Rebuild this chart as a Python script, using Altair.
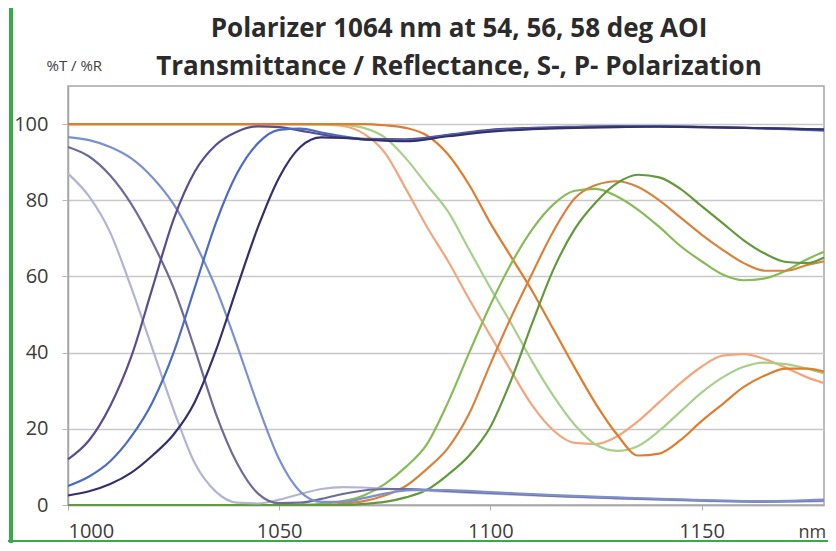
import altair as alt
import pandas as pd

TITLE_1 = "Polarizer 1064 nm at 54, 56, 58 deg AOI"
TITLE_2 = "Transmittance / Reflectance, S-, P- Polarization"

# ---- Blue/purple group (~1000-1060 nm edge) ----
riseA_x = [1000, 1005, 1010, 1015, 1020, 1025, 1030, 1035, 1040, 1045, 1050, 1055, 1060, 1065, 1070, 1080, 1090, 1100, 1110, 1120, 1130, 1140, 1150, 1160, 1170, 1179]
riseA_y = [12, 17, 26, 39, 57, 75, 87.5, 94.5, 98, 99.4, 99.2, 98.3, 97.3, 96.5, 96.1, 96, 97.2, 98.5, 99, 99.3, 99.5, 99.4, 99.2, 99, 98.8, 98.5]

riseB_x = [1000, 1005, 1010, 1015, 1020, 1025, 1030, 1035, 1040, 1045, 1050, 1055, 1060, 1065, 1070, 1080, 1090, 1100, 1110, 1120, 1130, 1140, 1150, 1160, 1170, 1179]
riseB_y = [5, 7.5, 11.5, 18, 27, 40, 57, 74, 87, 95, 98.5, 98.8, 97.8, 96.8, 96, 95.7, 97, 98.2, 98.8, 99.2, 99.4, 99.5, 99.3, 99, 98.7, 98.3]

riseC_x = [1000, 1005, 1010, 1015, 1020, 1025, 1030, 1035, 1040, 1045, 1050, 1055, 1060, 1065, 1070, 1080, 1090, 1100, 1110, 1120, 1130, 1140, 1150, 1160, 1170, 1179]
riseC_y = [2.5, 3.6, 5.5, 8.5, 13, 18.5, 27, 40.5, 57, 73, 86, 94, 96.5, 96.4, 96, 95.5, 96.8, 98, 98.7, 99, 99.2, 99.3, 99.2, 99, 98.8, 98.6]

fallA_x = [1000, 1005, 1010, 1015, 1020, 1025, 1030, 1035, 1040, 1045, 1050, 1055, 1060, 1065, 1070, 1078, 1090, 1100, 1115, 1130, 1150, 1165, 1179]
fallA_y = [87, 81, 71.5, 57, 41, 25, 11, 3.5, 0.6, 0.4, 1.4, 2.9, 4.2, 4.7, 4.6, 4.1, 3.5, 3, 2.3, 1.7, 1.1, 0.9, 1]

fallB_x = [1000, 1005, 1010, 1015, 1020, 1025, 1030, 1035, 1040, 1045, 1050, 1055, 1060, 1065, 1070, 1075, 1080, 1090, 1100, 1115, 1130, 1150, 1165, 1179]
fallB_y = [94, 91.5, 86.5, 79, 69, 57, 41, 24, 11, 3, 0.5, 0.6, 1.6, 2.9, 3.8, 4.2, 4.2, 3.7, 3.2, 2.4, 1.8, 1.2, 0.9, 1.2]

fallC_x = [1000, 1005, 1010, 1015, 1020, 1025, 1030, 1035, 1040, 1045, 1050, 1055, 1060, 1065, 1070, 1075, 1080, 1085, 1090, 1100, 1115, 1130, 1150, 1165, 1179]
fallC_y = [96.6, 95.8, 94, 91, 86, 79, 69, 57, 42, 26, 12, 3.5, 0.8, 0.8, 1.8, 3, 3.8, 4, 3.9, 3.4, 2.6, 2, 1.3, 1, 1.4]

# ---- Orange/green group (~1060-1180 nm edge) ----
grid_x = [1000, 1055, 1060, 1065, 1070, 1075, 1080, 1085, 1090, 1095, 1100, 1105, 1110, 1115, 1120, 1125, 1130, 1135, 1140, 1145, 1150, 1155, 1160, 1165, 1170, 1175, 1179]
f1_y = [100, 100, 99.9, 99.5, 97.5, 92.5, 83, 73, 64, 54, 44.5, 35, 26, 19.5, 16.3, 16, 18, 22, 27, 32, 36.3, 39.2, 39.6, 38.3, 36, 33.5, 32]
f2_y = [100, 100, 100, 99.8, 99, 96.5, 91, 84, 77, 67, 57, 47.5, 37.5, 28.5, 21, 15.8, 14.2, 15.5, 19.5, 24.5, 29.5, 33.5, 36.3, 37.4, 37, 35.8, 34.5]
f3_y = [100, 100, 100, 100, 100, 99.7, 99, 97, 92, 84, 74, 65, 56, 46, 36, 26.5, 18.5, 13, 13.5, 17, 22, 26.5, 31, 34, 35.8, 35.8, 35]
r1_y = [0, 0, 0.3, 1, 2.5, 5.5, 10, 16, 27, 40, 52.5, 63.5, 72.5, 79, 82.5, 83, 81, 77.5, 73, 68, 64, 60.5, 59, 59.5, 61.5, 64.5, 66.5]
r2_y = [0, 0, 0, 0.3, 1, 2.5, 5, 9.5, 15, 24, 37, 49.5, 61, 72, 80.5, 84, 85, 83.5, 80, 75.5, 71, 67, 63.5, 61.5, 61.5, 63, 64]
r3_y = [0, 0, 0, 0, 0.3, 0.8, 2, 4, 8, 13, 20.5, 33, 48, 62, 72.5, 79.5, 84.5, 86.7, 86, 83, 78.5, 74, 69.5, 66, 63.8, 63.5, 65]

series = [
    ("f1", grid_x, f1_y, "#f4a57c"),
    ("f2", grid_x, f2_y, "#a8d08c"),
    ("f3", grid_x, f3_y, "#df7d2c"),
    ("r1", grid_x, r1_y, "#86bc58"),
    ("r2", grid_x, r2_y, "#d9823c"),
    ("r3", grid_x, r3_y, "#62993a"),
    ("fallA", fallA_x, fallA_y, "#b2b4d6"),
    ("fallB", fallB_x, fallB_y, "#6f6b98"),
    ("fallC", fallC_x, fallC_y, "#7b90cf"),
    ("riseA", riseA_x, riseA_y, "#5b4d8d"),
    ("riseB", riseB_x, riseB_y, "#4b6cc0"),
    ("riseC", riseC_x, riseC_y, "#34306a"),
]

rows = []
for i, (name, xs, ys, _c) in enumerate(series):
    for j, (x, y) in enumerate(zip(xs, ys)):
        rows.append({"series": name, "wl": x, "val": y, "k": j})
df = pd.DataFrame(rows)

names = [s[0] for s in series]
colors = [s[3] for s in series]

x_scale = alt.Scale(domain=[1000, 1179], nice=False, zero=False)
y_scale = alt.Scale(domain=[0, 110], nice=False)

lines = alt.Chart(df).mark_line(strokeWidth=2.2, interpolate="monotone").encode(
    x=alt.X("wl:Q", scale=x_scale,
            axis=alt.Axis(values=[1000, 1050, 1100, 1150], format="d", grid=False,
                          labelFont="Open Sans", labelFontSize=20, labelColor="#3c3c3c",
                          labelPadding=11, tickSize=5, tickColor="#b0b0b0",
                          domainColor="#a6a6a6", domainWidth=1.5,
                          title="nm", titleFont="Open Sans", titleFontSize=18,
                          titleFontWeight="normal", titleColor="#3c3c3c",
                          titleAlign="left", titleAnchor="start", titleX=730, titleY=27,
                          titleBaseline="middle")),
    y=alt.Y("val:Q", scale=y_scale,
            axis=alt.Axis(values=[0, 20, 40, 60, 80, 100],
                          labelFont="Open Sans", labelFontSize=20, labelColor="#3c3c3c",
                          labelPadding=14, tickSize=6, tickColor="#b8b8b8",
                          domainColor="#a6a6a6", domainWidth=1.5,
                          gridColor="#c8c8c8", gridWidth=1.5,
                          title="%T / %R", titleFont="Open Sans", titleFontSize=15,
                          titleFontWeight="normal", titleColor="#404040",
                          titleAngle=0, titleAlign="left", titleBaseline="middle",
                          titleX=-22, titleY=-21)),
    color=alt.Color("series:N", scale=alt.Scale(domain=names, range=colors), legend=None),
    order=alt.Order("k:Q"),
)

title_df = pd.DataFrame({"t": [TITLE_1, TITLE_2], "line": [0, 1]})
title1 = alt.Chart(title_df).transform_filter("datum.line == 0").mark_text(
    font="Open Sans", fontSize=26, fontWeight="bold", color="#2b2b2b",
    align="center", baseline="alphabetic"
).encode(text="t:N", x=alt.value(391), y=alt.value(-49))
title2 = alt.Chart(title_df).transform_filter("datum.line == 1").mark_text(
    font="Open Sans", fontSize=26, fontWeight="bold", color="#2b2b2b",
    align="center", baseline="alphabetic"
).encode(text="t:N", x=alt.value(391), y=alt.value(-11))

frame_left = alt.Chart(title_df).mark_rule(color="#3aaa48", strokeWidth=4).encode(
    x=alt.value(-57), y=alt.value(-78), y2=alt.value(457)
)
frame_bottom = alt.Chart(title_df).mark_rule(color="#3aaa48", strokeWidth=2).encode(
    x=alt.value(-60), x2=alt.value(760), y=alt.value(455)
)

chart = alt.layer(lines, title1, title2, frame_left, frame_bottom).properties(
    width=756,
    height=419,
    autosize=alt.AutoSizeParams(type="none"),
    padding={"left": 60, "top": 78, "right": 4, "bottom": 38},
).configure_view(stroke="#a6a6a6", strokeWidth=1.5)

chart.save("out.html", embed_options={"renderer": "svg", "actions": False})
